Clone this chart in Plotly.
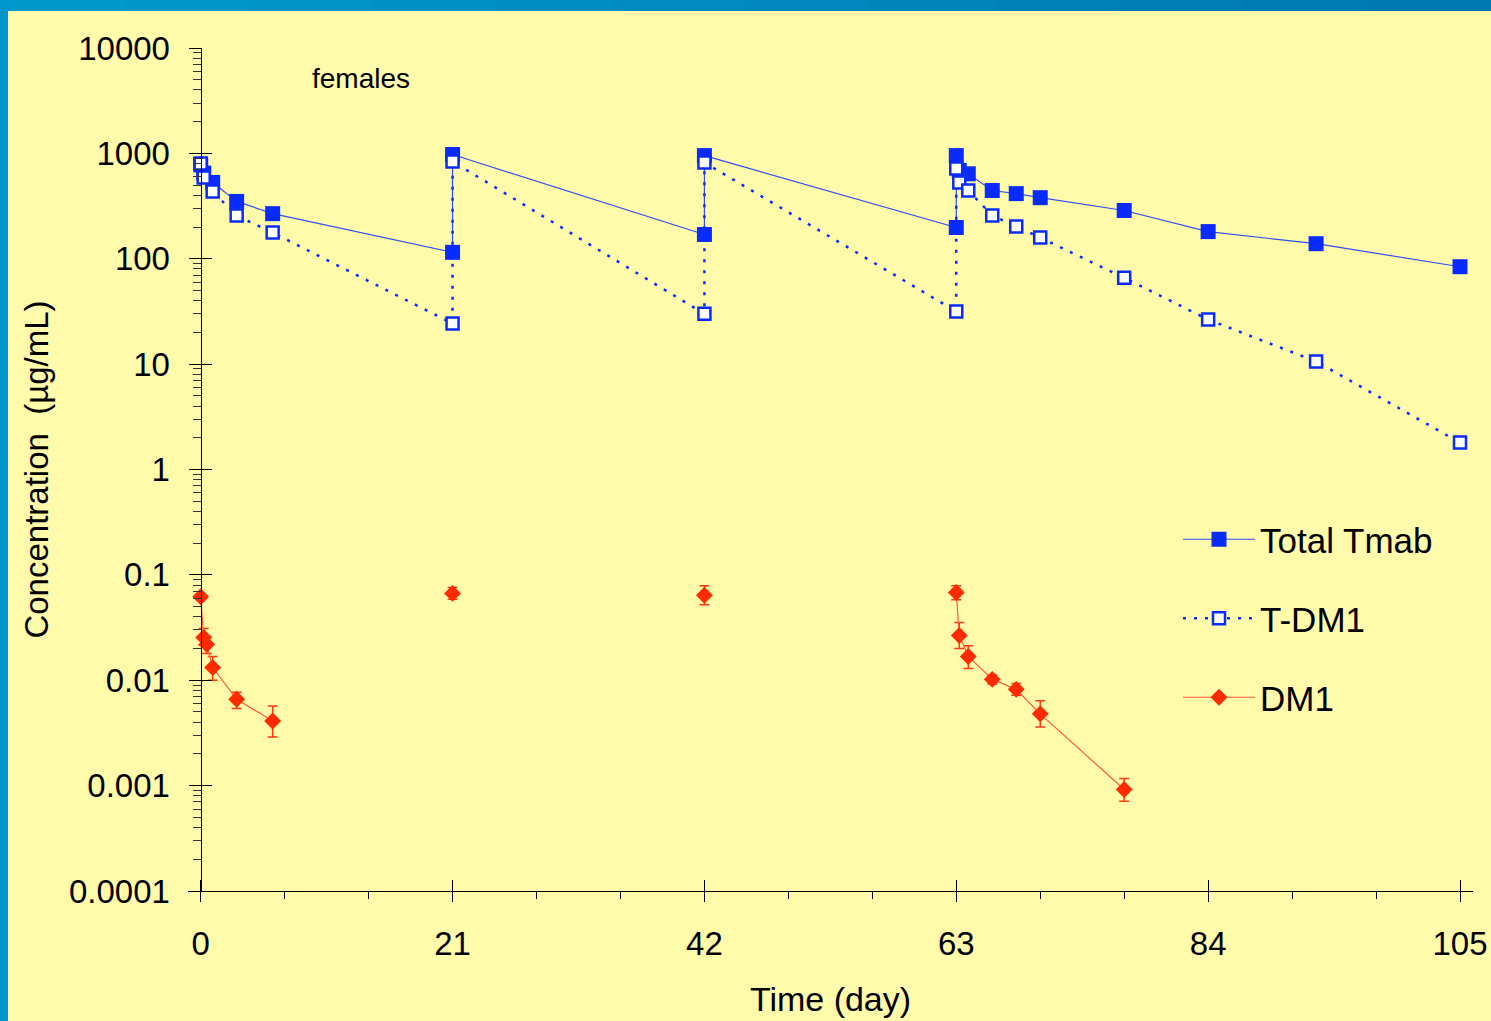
import plotly.graph_objects as go

# ---------------- data ----------------
tmab_day = [0, 0.25, 1, 3, 6, 21, 21, 42, 42, 63, 63, 63.25, 64, 66, 68, 70, 77, 84, 93, 105]
tmab_conc = [780, 650, 530, 350, 268, 115, 975, 170, 953, 198, 953, 690, 640, 444, 415, 380, 287, 181, 139, 84]

tdm1_day = [0, 0.25, 1, 3, 6, 21, 21, 42, 42, 63, 63, 63.25, 64, 66, 68, 70, 77, 84, 93, 105]
tdm1_conc = [800, 590, 434, 257, 177, 24.3, 836, 30, 818, 31.6, 718, 528, 444, 257, 202, 159, 66, 26.5, 10.6, 1.8]

dm1_day = [0, 0.25, 0.5, 1, 3, 6, None, 21, None, 42, None, 63, 63.25, 64, 66, 68, 70, 77]
dm1_conc = [0.062, 0.0255, 0.0219, 0.0132, 0.0066, 0.0041, None, 0.0667, None, 0.064, None,
            0.068, 0.0266, 0.0168, 0.0102, 0.0082, 0.0048, 0.00092]
dm1_err_plus = [0.003, 0.0055, 0.004, 0.0036, 0.0011, 0.0016, None, 0.009, None, 0.015, None,
                0.011, 0.0088, 0.0045, 0.001, 0.0011, 0.0016, 0.00025]
dm1_err_minus = [0.003, 0.004, 0.004, 0.0032, 0.0012, 0.0012, None, 0.008, None, 0.012, None,
                 0.010, 0.0066, 0.0039, 0.001, 0.001, 0.0012, 0.00021]

x_major = [0, 21, 42, 63, 84, 105]
x_minor = [7, 14, 28, 35, 49, 56, 70, 77, 91, 98]
y_major = [0.0001, 0.001, 0.01, 0.1, 1, 10, 100, 1000, 10000]
y_major_text = ["0.0001", "0.001", "0.01", "0.1", "1", "10", "100", "1000", "10000"]
y_minor = [k * 10.0 ** e for e in range(-4, 4) for k in range(2, 10)]

# ---------------- style ----------------
FONT = "Liberation Sans, Arial, sans-serif"
YELLOW = "#FFFBAA"
BLUE = "#0A2BFF"
BLUE_LINE = "#3050F0"
RED = "#FF2A00"
RED_LINE = "#FF5A3C"

W, H = 1491, 1021
ML, MR, MT, MB = 188, 18, 48, 130
PW = W - ML - MR
PH = H - MT - MB
PX_PER_DAY = 11.994
x0_px = 200.7
xr = [-(x0_px - ML) / PX_PER_DAY, 105 + (W - MR - 1460.0) / PX_PER_DAY]
ypos = (x0_px - ML) / PW

fig = go.Figure()

fig.add_trace(go.Scatter(
    x=tmab_day, y=tmab_conc, name="Total Tmab", mode="lines+markers",
    line=dict(color=BLUE_LINE, width=1.2),
    marker=dict(symbol="square", size=15, color=BLUE, line=dict(width=0)),
    legendgroup="a",
))
fig.add_trace(go.Scatter(
    x=tdm1_day, y=tdm1_conc, name="T-DM1", mode="lines+markers",
    line=dict(color=BLUE, width=2.5, dash="3px,8px"),
    marker=dict(symbol="square", size=12, color="white", line=dict(width=2.5, color=BLUE)),
    legendgroup="b",
))
fig.add_trace(go.Scatter(
    x=dm1_day, y=dm1_conc, name="DM1", mode="lines+markers",
    line=dict(color=RED_LINE, width=1.2),
    marker=dict(symbol="diamond", size=13, color=RED, line=dict(width=0)),
    error_y=dict(type="data", symmetric=False, array=dm1_err_plus, arrayminus=dm1_err_minus,
                 color="#FF3A10", thickness=1.5, width=5),
    connectgaps=False, legendgroup="c",
))
# empty helper trace so the overlay (inside-tick) axes are drawn
fig.add_trace(go.Scatter(x=[], y=[], xaxis="x2", yaxis="y2", showlegend=False, hoverinfo="skip"))

axis_common = dict(showgrid=False, zeroline=False, tickcolor="black", tickwidth=1.3)

fig.update_layout(
    width=W, height=H,
    margin=dict(l=ML, r=MR, t=MT, b=MB, autoexpand=False),
    paper_bgcolor=YELLOW, plot_bgcolor=YELLOW,
    font=dict(family=FONT, size=33, color="black"),
    xaxis=dict(
        range=xr, tickmode="array", tickvals=x_major, ticks="outside", ticklen=10,
        showline=True, linecolor="black", linewidth=1.3,
        minor=dict(tickmode="array", tickvals=x_minor, ticks="outside", ticklen=7,
                   tickcolor="black", tickwidth=1.3),
        title=dict(text="Time (day)", font=dict(size=34), standoff=26),
        ticklabelstandoff=13,
        **axis_common,
    ),
    yaxis=dict(
        type="log", range=[-4, 4], tickmode="array", tickvals=y_major, ticktext=y_major_text,
        ticks="outside", ticklen=12, anchor="free", position=ypos,
        showline=True, linecolor="black", linewidth=1.3,
        minor=dict(tickmode="array", tickvals=y_minor, ticks="outside", ticklen=8,
                   tickcolor="#333333", tickwidth=1.3),
        title=dict(text="Concentration  (µg/mL)", font=dict(size=33), standoff=9),
        ticklabelstandoff=12,
        **axis_common,
    ),
    xaxis2=dict(overlaying="x", matches="x", anchor="y", side="bottom",
                tickmode="array", tickvals=x_major, ticks="inside", ticklen=11,
                showticklabels=False, showline=False, **axis_common),
    yaxis2=dict(overlaying="y", matches="y", type="log", anchor="free", position=ypos,
                tickmode="array", tickvals=y_major, ticks="inside", ticklen=10,
                showticklabels=False, showline=False, **axis_common),
    legend=dict(
        x=(1178 - ML) / PW, y=(MT + PH - 510) / PH, xanchor="left", yanchor="top",
        bgcolor="rgba(0,0,0,0)", borderwidth=0, font=dict(size=35),
        traceorder="grouped", tracegroupgap=30.5, itemwidth=72,
    ),
    showlegend=True,
    annotations=[dict(
        text="females", xref="paper", yref="paper",
        x=(361 - ML) / PW, y=(MT + PH - 78) / PH, showarrow=False,
        font=dict(size=28), xanchor="center", yanchor="middle",
    )],
)

# blue frame (top band with slight gradient, left band)
shapes = []
n = 12
c0 = (0x00, 0x99, 0xCC)
c1 = (0x00, 0x79, 0xB2)
for i in range(n):
    t = i / (n - 1)
    col = "rgb(%d,%d,%d)" % tuple(round(a + (b - a) * t) for a, b in zip(c0, c1))
    xa = (i * W / n - ML) / PW
    xb = ((i + 1) * W / n + 1 - ML) / PW
    shapes.append(dict(type="rect", xref="paper", yref="paper",
                       x0=xa, x1=xb, y0=(MT + PH - 11) / PH, y1=(MT + PH + 5) / PH,
                       fillcolor=col, line=dict(width=0), layer="above"))
shapes.append(dict(type="rect", xref="paper", yref="paper",
                   x0=(-5 - ML) / PW, x1=(8 - ML) / PW, y0=(MT + PH - H - 5) / PH, y1=(MT + PH + 5) / PH,
                   fillcolor="rgb(0,150,205)", line=dict(width=0), layer="above"))
fig.update_layout(shapes=shapes)

fig.write_html(
    "out.html",
    config={"displayModeBar": False},
    post_script="document.body.style.margin='0';document.body.style.padding='0';"
                "document.body.style.overflow='hidden';",
)
